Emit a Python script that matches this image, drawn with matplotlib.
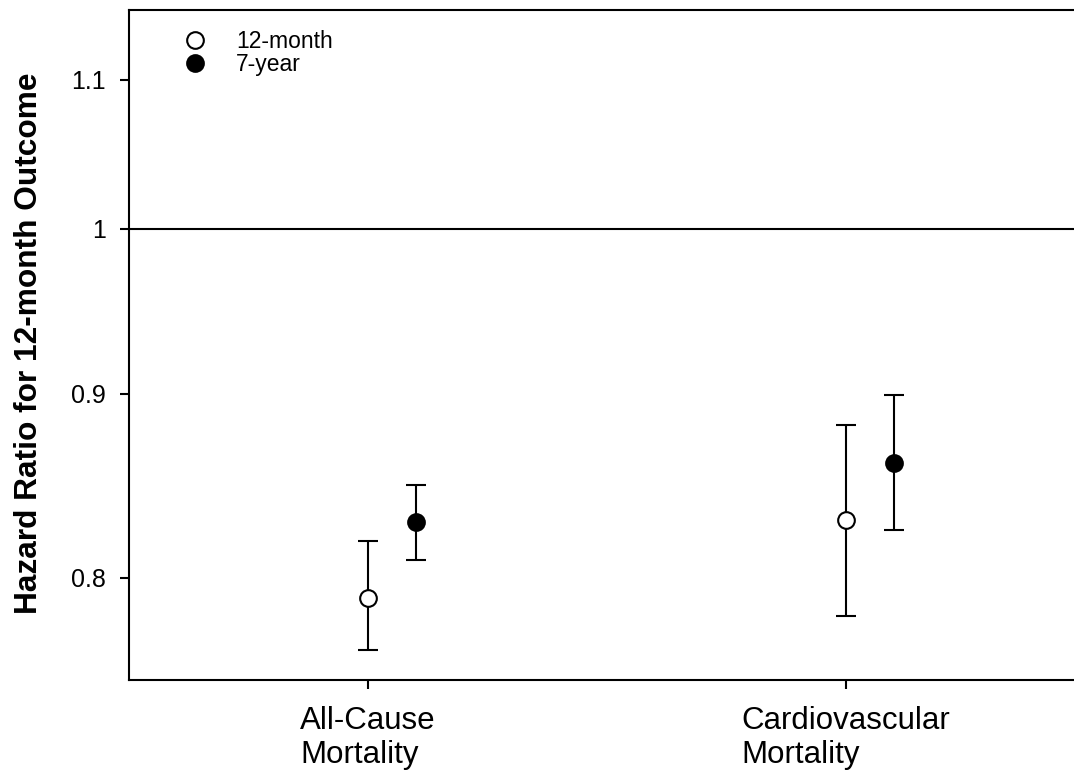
import matplotlib
matplotlib.use("Agg")
import matplotlib.pyplot as plt
import numpy as np

plt.rcParams['font.family'] = ['Liberation Sans', 'DejaVu Sans']

categories = ["All-Cause\nMortality", "Cardiovascular\nMortality"]
series_names = ["12-month", "7-year"]
hr_12m = [0.79, 0.83]
lo_12m = [0.764, 0.781]
hi_12m = [0.819, 0.882]
hr_7y = [0.829, 0.861]
lo_7y = [0.809, 0.825]
hi_7y = [0.849, 0.899]
yticks = [0.8, 0.9, 1.0, 1.1]
yticklabels = ["0.8", "0.9", "1", "1.1"]

W, H = 1074, 773
fig = plt.figure(figsize=(W / 100, H / 100), dpi=100)
ax = fig.add_axes([129 / W, 1 - 680 / H, (1074 - 129) / W, (680 - 10) / H])

x = np.arange(1, len(categories) + 1)
offset = 0.1
lw = 1.5

ax.axhline(1.0, color='black', lw=lw, zorder=1)

ax.errorbar(x, hr_12m, yerr=[np.array(hr_12m) - np.array(lo_12m), np.array(hi_12m) - np.array(hr_12m)],
            fmt='o', ms=12, mfc='white', mec='black', mew=1.5, color='black', ecolor='black',
            elinewidth=lw, capsize=7, capthick=lw, label=series_names[0], zorder=3)
ax.errorbar(x + offset, hr_7y, yerr=[np.array(hr_7y) - np.array(lo_7y), np.array(hi_7y) - np.array(hr_7y)],
            fmt='o', ms=12, mfc='black', mec='black', mew=1.5, color='black', ecolor='black',
            elinewidth=lw, capsize=7, capthick=lw, label=series_names[1], zorder=3)

ax.set_yscale('log')
ax.set_ylim(0.7495, 1.150)
ax.set_xlim(0.5, 2.477)
ax.yaxis.set_major_locator(matplotlib.ticker.FixedLocator(yticks))
ax.yaxis.set_major_formatter(matplotlib.ticker.FixedFormatter(yticklabels))
ax.yaxis.set_minor_locator(matplotlib.ticker.NullLocator())
ax.set_xticks(x)
ax.set_xticklabels(categories, fontsize=22.5, linespacing=1.2)
for t in ax.get_xticklabels():
    t.set_multialignment('left')
ax.tick_params(axis='y', labelsize=18, length=6.5, width=lw, direction='out', pad=10)
ax.tick_params(axis='x', length=6.5, width=lw, direction='out', pad=12)

ax.spines['right'].set_visible(False)
for s in ['left', 'bottom', 'top']:
    ax.spines[s].set_linewidth(lw)

fig.text(29 / W, 1 - 343.5 / H, "Hazard Ratio for 12-month Outcome", rotation=90,
         ha='center', va='center', fontsize=22.8, fontweight='bold')

handles, labels = ax.get_legend_handles_labels()
handles = [h[0] for h in handles]
ax.legend(handles, labels, loc='upper left', bbox_to_anchor=(0.048, 0.984), frameon=False,
          fontsize=16.5, handlelength=1.0, handletextpad=1.3, labelspacing=0.0, borderaxespad=0)

fig.savefig("out.png", dpi=100)
